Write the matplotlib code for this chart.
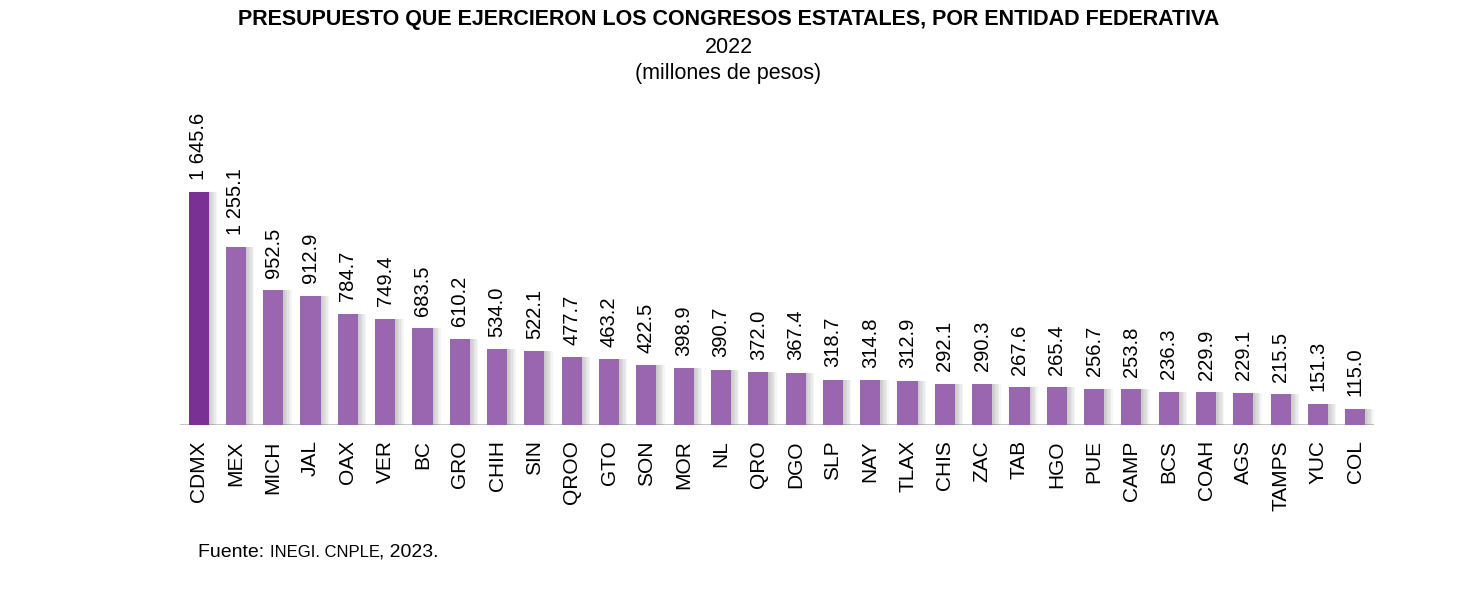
import matplotlib.pyplot as plt
from matplotlib import patheffects as pe

plt.rcParams['font.family'] = ['Liberation Sans', 'DejaVu Sans']

entidades = ['CDMX', 'MEX', 'MICH', 'JAL', 'OAX', 'VER', 'BC', 'GRO', 'CHIH', 'SIN',
             'QROO', 'GTO', 'SON', 'MOR', 'NL', 'QRO', 'DGO', 'SLP', 'NAY', 'TLAX',
             'CHIS', 'ZAC', 'TAB', 'HGO', 'PUE', 'CAMP', 'BCS', 'COAH', 'AGS', 'TAMPS',
             'YUC', 'COL']
presupuesto = [1645.6, 1255.1, 952.5, 912.9, 784.7, 749.4, 683.5, 610.2, 534.0, 522.1,
               477.7, 463.2, 422.5, 398.9, 390.7, 372.0, 367.4, 318.7, 314.8, 312.9,
               292.1, 290.3, 267.6, 265.4, 256.7, 253.8, 236.3, 229.9, 229.1, 215.5,
               151.3, 115.0]


def fmt(v):
    # separador de miles con espacio
    return f'{v:,.1f}'.replace(',', ' ')


fig = plt.figure(figsize=(14.57, 5.96), dpi=100)
ax = fig.add_axes([0.1235, 0.287, 0.8195, 0.545])

colores = ['#7A3194'] + ['#9966AF'] * (len(entidades) - 1)
x = range(len(entidades))
bars = ax.bar(x, presupuesto, width=0.54, color=colores, zorder=3)
# sombra difusa a la derecha
sombra = [pe.SimplePatchShadow(offset=(d, 0), shadow_rgbFace='#808080', alpha=0.08)
          for d in (6, 5, 4, 3, 2, 1)]
for b in bars:
    b.set_path_effects(sombra + [pe.Normal()])

for i, v in enumerate(presupuesto):
    ax.annotate(fmt(v), (i, v), xytext=(0, 9), textcoords='offset points',
                rotation=90, ha='center', va='bottom', fontsize=14.5)

ax.set_xlim(-0.5, len(entidades) - 0.5)
ax.set_ylim(0, 2295)
base = ax.axhline(0, color='#BFBFBF', lw=2, zorder=2)
base.set_path_effects([pe.SimpleLineShadow(offset=(0, -2), shadow_color='#A0A0A0', alpha=0.3),
                       pe.Normal()])
for s in ax.spines.values():
    s.set_visible(False)
ax.set_yticks([])
ax.set_xticks(list(x))
ax.set_xticklabels(entidades, rotation=90, fontsize=15)
ax.tick_params(axis='x', length=0, pad=11)

fig.text(0.5, 0.968, 'PRESUPUESTO QUE EJERCIERON LOS CONGRESOS ESTATALES, POR ENTIDAD FEDERATIVA',
         ha='center', va='center', fontsize=15.5, fontweight='bold')
fig.text(0.5, 0.921, '2022', ha='center', va='center', fontsize=15.5)
fig.text(0.5, 0.877, '(millones de pesos)', ha='center', va='center', fontsize=15.5)

# fuente con tamaños mixtos, encadenando las piezas
fig.canvas.draw()
r = fig.canvas.get_renderer()
xpos = 198 / 1457
ypos = 0.066
for txt, fs in [('Fuente: ', 14), ('INEGI. CNPLE', 12), (', 2023.', 14)]:
    t = fig.text(xpos, ypos, txt, ha='left', va='baseline', fontsize=fs)
    ext = t.get_window_extent(renderer=r)
    xpos += ext.width / fig.bbox.width

fig.savefig('out.png', dpi=100)
